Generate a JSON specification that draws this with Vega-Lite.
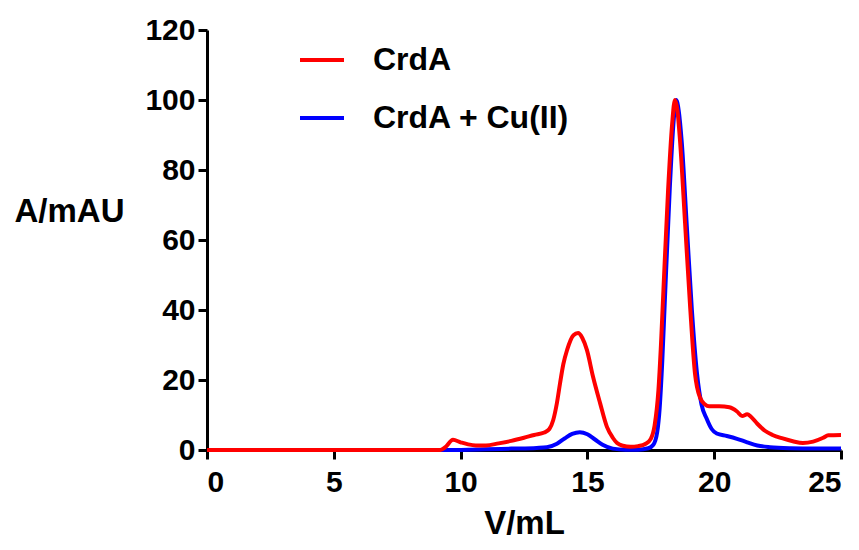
{
  "$schema": "https://vega.github.io/schema/vega-lite/v6.json",
  "width": 634,
  "height": 420,
  "autosize": {"type": "none"},
  "padding": {"left": 207, "top": 30, "right": 18, "bottom": 100},
  "background": "white",
  "config": {
    "view": {"stroke": null},
    "font": "Liberation Sans",
    "axis": {
      "domainColor": "black", "domainWidth": 3, "tickColor": "black", "tickWidth": 3, "tickSize": 9,
      "labelFont": "Liberation Sans", "labelFontWeight": "bold", "labelFontSize": 30, "labelColor": "black",
      "titleFont": "Liberation Sans", "titleFontWeight": "bold", "titleFontSize": 33, "titleColor": "black",
      "grid": false
    },
    "legend": {"labelFont": "Liberation Sans", "labelFontWeight": "bold", "labelFontSize": 32, "labelColor": "black"}
  },
  "data": {"values": [
    {"s": "CrdA + Cu(II)", "v": 0, "a": 0},
    {"s": "CrdA + Cu(II)", "v": 9.5, "a": 0},
    {"s": "CrdA + Cu(II)", "v": 11, "a": 0.2},
    {"s": "CrdA + Cu(II)", "v": 12, "a": 0.4},
    {"s": "CrdA + Cu(II)", "v": 13, "a": 0.6},
    {"s": "CrdA + Cu(II)", "v": 13.4, "a": 0.8},
    {"s": "CrdA + Cu(II)", "v": 13.8, "a": 1.8},
    {"s": "CrdA + Cu(II)", "v": 14.1, "a": 3.3},
    {"s": "CrdA + Cu(II)", "v": 14.4, "a": 4.6},
    {"s": "CrdA + Cu(II)", "v": 14.7, "a": 5.1},
    {"s": "CrdA + Cu(II)", "v": 15, "a": 4.5},
    {"s": "CrdA + Cu(II)", "v": 15.3, "a": 3.0},
    {"s": "CrdA + Cu(II)", "v": 15.6, "a": 1.5},
    {"s": "CrdA + Cu(II)", "v": 16, "a": 0.4},
    {"s": "CrdA + Cu(II)", "v": 16.5, "a": 0.1},
    {"s": "CrdA + Cu(II)", "v": 17, "a": 0.1},
    {"s": "CrdA + Cu(II)", "v": 17.4, "a": 0.5},
    {"s": "CrdA + Cu(II)", "v": 17.6, "a": 1.5},
    {"s": "CrdA + Cu(II)", "v": 17.75, "a": 5},
    {"s": "CrdA + Cu(II)", "v": 17.85, "a": 12},
    {"s": "CrdA + Cu(II)", "v": 17.95, "a": 25},
    {"s": "CrdA + Cu(II)", "v": 18.05, "a": 42},
    {"s": "CrdA + Cu(II)", "v": 18.25, "a": 75},
    {"s": "CrdA + Cu(II)", "v": 18.4, "a": 94},
    {"s": "CrdA + Cu(II)", "v": 18.5, "a": 100},
    {"s": "CrdA + Cu(II)", "v": 18.6, "a": 97},
    {"s": "CrdA + Cu(II)", "v": 18.72, "a": 88},
    {"s": "CrdA + Cu(II)", "v": 18.92, "a": 64},
    {"s": "CrdA + Cu(II)", "v": 19.12, "a": 40},
    {"s": "CrdA + Cu(II)", "v": 19.32, "a": 22},
    {"s": "CrdA + Cu(II)", "v": 19.5, "a": 13},
    {"s": "CrdA + Cu(II)", "v": 19.7, "a": 9},
    {"s": "CrdA + Cu(II)", "v": 19.9, "a": 6},
    {"s": "CrdA + Cu(II)", "v": 20.1, "a": 4.7},
    {"s": "CrdA + Cu(II)", "v": 20.5, "a": 4},
    {"s": "CrdA + Cu(II)", "v": 20.9, "a": 3.2},
    {"s": "CrdA + Cu(II)", "v": 21.3, "a": 2.2},
    {"s": "CrdA + Cu(II)", "v": 21.7, "a": 1.3},
    {"s": "CrdA + Cu(II)", "v": 22.2, "a": 0.8},
    {"s": "CrdA + Cu(II)", "v": 23, "a": 0.5},
    {"s": "CrdA + Cu(II)", "v": 24, "a": 0.4},
    {"s": "CrdA + Cu(II)", "v": 25, "a": 0.4},
    {"s": "CrdA", "v": 0, "a": 0},
    {"s": "CrdA", "v": 9.2, "a": 0},
    {"s": "CrdA", "v": 9.4, "a": 0.8},
    {"s": "CrdA", "v": 9.7, "a": 2.9},
    {"s": "CrdA", "v": 10, "a": 2.2},
    {"s": "CrdA", "v": 10.3, "a": 1.6},
    {"s": "CrdA", "v": 10.6, "a": 1.3},
    {"s": "CrdA", "v": 11, "a": 1.3},
    {"s": "CrdA", "v": 11.5, "a": 1.9},
    {"s": "CrdA", "v": 12, "a": 2.6},
    {"s": "CrdA", "v": 12.5, "a": 3.5},
    {"s": "CrdA", "v": 12.9, "a": 4.3},
    {"s": "CrdA", "v": 13.3, "a": 5},
    {"s": "CrdA", "v": 13.5, "a": 6},
    {"s": "CrdA", "v": 13.65, "a": 8.5},
    {"s": "CrdA", "v": 13.8, "a": 13.5},
    {"s": "CrdA", "v": 13.92, "a": 19},
    {"s": "CrdA", "v": 14.05, "a": 24.5},
    {"s": "CrdA", "v": 14.2, "a": 28.6},
    {"s": "CrdA", "v": 14.45, "a": 32.8},
    {"s": "CrdA", "v": 14.63, "a": 33.4},
    {"s": "CrdA", "v": 14.8, "a": 32},
    {"s": "CrdA", "v": 14.98, "a": 28.6},
    {"s": "CrdA", "v": 15.22, "a": 21},
    {"s": "CrdA", "v": 15.5, "a": 13.4},
    {"s": "CrdA", "v": 15.77, "a": 6.6},
    {"s": "CrdA", "v": 16.0, "a": 3.5},
    {"s": "CrdA", "v": 16.17, "a": 2},
    {"s": "CrdA", "v": 16.4, "a": 1.2},
    {"s": "CrdA", "v": 16.7, "a": 0.9},
    {"s": "CrdA", "v": 17.0, "a": 1.1},
    {"s": "CrdA", "v": 17.3, "a": 1.8},
    {"s": "CrdA", "v": 17.5, "a": 3.2},
    {"s": "CrdA", "v": 17.65, "a": 7},
    {"s": "CrdA", "v": 17.8, "a": 17},
    {"s": "CrdA", "v": 17.9, "a": 30},
    {"s": "CrdA", "v": 18.0, "a": 46},
    {"s": "CrdA", "v": 18.18, "a": 74},
    {"s": "CrdA", "v": 18.34, "a": 93},
    {"s": "CrdA", "v": 18.45, "a": 100},
    {"s": "CrdA", "v": 18.55, "a": 97},
    {"s": "CrdA", "v": 18.65, "a": 88.6},
    {"s": "CrdA", "v": 18.85, "a": 65},
    {"s": "CrdA", "v": 19.05, "a": 41},
    {"s": "CrdA", "v": 19.24, "a": 22},
    {"s": "CrdA", "v": 19.44, "a": 15},
    {"s": "CrdA", "v": 19.64, "a": 13},
    {"s": "CrdA", "v": 19.8, "a": 12.5},
    {"s": "CrdA", "v": 20.2, "a": 12.5},
    {"s": "CrdA", "v": 20.6, "a": 12.2},
    {"s": "CrdA", "v": 20.9, "a": 11},
    {"s": "CrdA", "v": 21.1, "a": 9.7},
    {"s": "CrdA", "v": 21.3, "a": 10.2},
    {"s": "CrdA", "v": 21.45, "a": 9.5},
    {"s": "CrdA", "v": 21.7, "a": 7.5},
    {"s": "CrdA", "v": 22, "a": 5.5},
    {"s": "CrdA", "v": 22.3, "a": 4.3},
    {"s": "CrdA", "v": 22.7, "a": 3.3},
    {"s": "CrdA", "v": 23.1, "a": 2.5},
    {"s": "CrdA", "v": 23.5, "a": 2},
    {"s": "CrdA", "v": 23.9, "a": 2.4},
    {"s": "CrdA", "v": 24.3, "a": 3.5},
    {"s": "CrdA", "v": 24.5, "a": 4.2},
    {"s": "CrdA", "v": 25, "a": 4.3}
  ]},
  "encoding": {
    "x": {"field": "v", "type": "quantitative", "scale": {"domain": [0, 25], "nice": false},
      "axis": {"title": "V/mL", "values": [0, 5, 10, 15, 20, 25], "labelPadding": 8, "titleY": 73, "titleBaseline": "middle"}},
    "y": {"field": "a", "type": "quantitative", "scale": {"domain": [0, 120], "nice": false},
      "axis": {"title": "A/mAU", "values": [0, 20, 40, 60, 80, 100, 120], "labelPadding": 3, "titleAngle": 0, "titleAlign": "left", "titleBaseline": "middle", "titleX": -193, "titleY": 181}},
    "color": {"field": "s", "type": "nominal", "scale": {"domain": ["CrdA", "CrdA + Cu(II)"], "range": ["#ff0000", "#0000ff"]},
      "legend": {"title": null, "orient": "none", "legendX": 91, "legendY": 6, "symbolType": "stroke", "symbolStrokeWidth": 4, "symbolSize": 1936, "labelOffset": 27, "rowPadding": 18, "labelLimit": 400}}
  },
  "layer": [
    {"transform": [{"filter": "datum.s == 'CrdA + Cu(II)'"}], "mark": {"type": "line", "strokeWidth": 4, "interpolate": "monotone"}},
    {"transform": [{"filter": "datum.s == 'CrdA'"}], "mark": {"type": "line", "strokeWidth": 4, "interpolate": "monotone"}}
  ]
}
